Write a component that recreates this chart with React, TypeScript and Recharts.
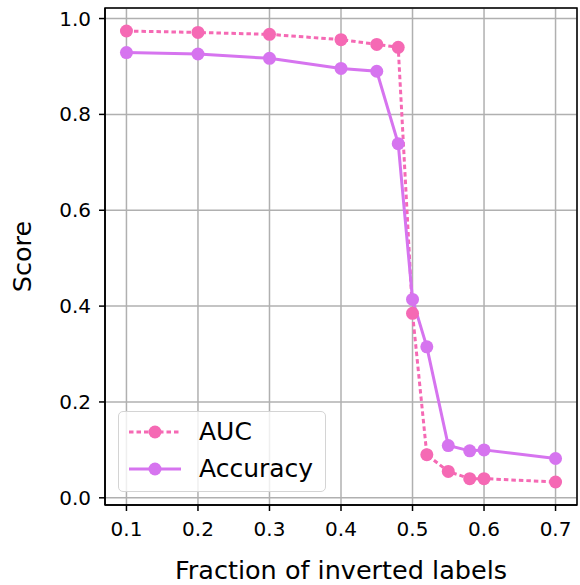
import { LineChart, Line, XAxis, YAxis, CartesianGrid, Legend, ReferenceArea } from 'recharts';

const fractions = [0.1, 0.2, 0.3, 0.4, 0.45, 0.48, 0.5, 0.52, 0.55, 0.58, 0.6, 0.7];
const aucScores = [0.974, 0.971, 0.967, 0.956, 0.946, 0.94, 0.385, 0.09, 0.055, 0.04, 0.04, 0.033];
const accuracyScores = [0.929, 0.926, 0.917, 0.896, 0.89, 0.739, 0.414, 0.315, 0.109, 0.098, 0.1, 0.082];
const xTicks = [0.1, 0.2, 0.3, 0.4, 0.5, 0.6, 0.7];
const yTicks = [0, 0.2, 0.4, 0.6, 0.8, 1.0];

const AUC_COLOR = '#f569b4';
const ACC_COLOR = '#d674ef';
const FONT = "'DejaVu Sans', sans-serif";

const data = fractions.map((f, i) => ({ fraction: f, auc: aucScores[i], accuracy: accuracyScores[i] }));

const legendItems = [
  { name: 'AUC', color: AUC_COLOR, dash: '4.5 3' },
  { name: 'Accuracy', color: ACC_COLOR, dash: undefined },
];

function LegendBox() {
  return (
    <div
      style={{
        width: 208,
        height: 81,
        border: '1.5px solid #d4d4d4',
        borderRadius: 5,
        background: 'rgba(255,255,255,0.8)',
        fontFamily: FONT,
        fontSize: 25,
        color: '#000',
        boxSizing: 'border-box',
        paddingTop: 1,
      }}
    >
      {legendItems.map((item) => (
        <div key={item.name} style={{ display: 'flex', alignItems: 'center', height: 37 }}>
          <svg width={80} height={20} style={{ marginLeft: 8 }}>
            <line x1={2} y1={10} x2={54} y2={10} stroke={item.color} strokeWidth={3} strokeDasharray={item.dash} />
            <circle cx={28} cy={10} r={6.5} fill={item.color} />
          </svg>
          <span style={{ marginLeft: -8 }}>{item.name}</span>
        </div>
      ))}
    </div>
  );
}

export default function App() {
  return (
    <div style={{ position: 'absolute', left: 0, top: 0, background: '#fff' }}>
      <LineChart width={580} height={585} data={data} margin={{ top: 8, right: 3, left: 0, bottom: 0 }}>
        <CartesianGrid stroke="#b0b0b0" strokeWidth={1.5} />
        <XAxis
          dataKey="fraction"
          type="number"
          domain={[0.07, 0.73]}
          ticks={xTicks}
          allowDataOverflow
          height={80}
          stroke="#000"
          strokeWidth={1.5}
          tickSize={6}
          tickMargin={11}
          tick={{ fill: '#000', fontSize: 20, fontFamily: FONT }}
          tickFormatter={(v: number) => v.toFixed(1)}
          label={{ value: 'Fraction of inverted labels', position: 'insideBottom', offset: 6, fill: '#000', fontSize: 25.5, fontFamily: FONT }}
        />
        <YAxis
          type="number"
          domain={[-0.015, 1.022]}
          ticks={yTicks}
          allowDataOverflow
          width={105}
          stroke="#000"
          strokeWidth={1.5}
          tickSize={6}
          tickMargin={8}
          tick={{ fill: '#000', fontSize: 20, fontFamily: FONT }}
          tickFormatter={(v: number) => v.toFixed(1)}
          label={{ value: 'Score', angle: -90, position: 'insideLeft', offset: 22, fill: '#000', fontSize: 25.5, fontFamily: FONT, style: { textAnchor: 'middle' } }}
        />
        <ReferenceArea x1={0.07} x2={0.73} y1={-0.015} y2={1.022} fill="none" stroke="#000" strokeWidth={1.5} />
        <Line
          dataKey="auc"
          name="AUC"
          stroke={AUC_COLOR}
          strokeWidth={3}
          strokeDasharray="4.5 3"
          dot={{ r: 6.5, fill: AUC_COLOR, stroke: AUC_COLOR, strokeWidth: 0, strokeDasharray: '0' }}
          isAnimationActive={false}
        />
        <Line
          dataKey="accuracy"
          name="Accuracy"
          stroke={ACC_COLOR}
          strokeWidth={3}
          dot={{ r: 6.5, fill: ACC_COLOR, stroke: ACC_COLOR, strokeWidth: 0 }}
          isAnimationActive={false}
        />
        <Legend
          layout="vertical"
          align="center"
          verticalAlign="middle"
          content={() => <LegendBox />}
          wrapperStyle={{ left: 118, top: 411, width: 'auto' }}
        />
      </LineChart>
    </div>
  );
}
